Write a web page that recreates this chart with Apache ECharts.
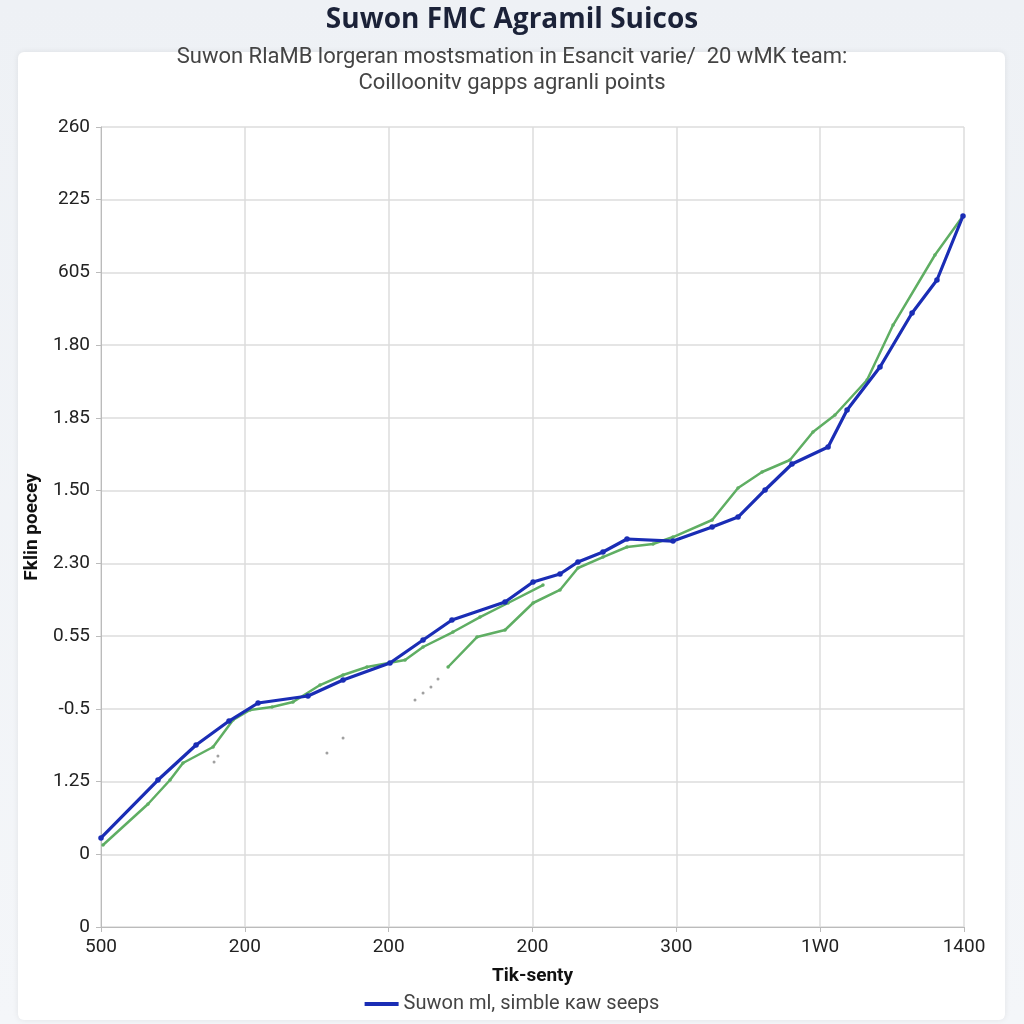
<!DOCTYPE html>
<html><head><meta charset="utf-8">
<script src="https://cdn.jsdelivr.net/npm/echarts@6/dist/echarts.min.js"></script>
<style>
html,body{margin:0;padding:0;width:1024px;height:1024px;background:linear-gradient(#eef1f5,#f4f6f9);overflow:hidden;}
#card{position:absolute;left:18px;top:52px;width:987px;height:968px;background:#fff;border-radius:6px;box-shadow:0 0 6px rgba(0,0,0,0.08);}
#c{position:absolute;left:0;top:0;width:1024px;height:1024px;}
</style></head>
<body><div id="card"></div><div id="c"></div>
<script>
const xLabels = ['500','200','200','200','300','1W0','1400'];
const yLabels = ['0','0','1.25','-0.5','0.55','2.30','1.50','1.85','1.80','605','225','260'];
const blueData = [[0,1.224],[0.396,2.021],[0.661,2.502],[0.890,2.832],[1.092,3.080],[1.439,3.176],[1.683,3.396],[2.009,3.630],[2.239,3.946],[2.440,4.221],[2.809,4.469],[3.004,4.744],[3.191,4.854],[3.316,5.019],[3.490,5.156],[3.657,5.335],[3.977,5.307],[4.249,5.500],[4.429,5.637],[4.617,6.009],[4.804,6.366],[5.055,6.600],[5.187,7.109],[5.416,7.700],[5.639,8.442],[5.812,8.896],[5.993,9.776]];
const greenA = [[0.014,1.127],[0.327,1.691],[0.480,2.021],[0.570,2.255],[0.779,2.475],[0.918,2.846],[1.036,2.984],[1.189,3.025],[1.335,3.094],[1.523,3.327],[1.683,3.465],[1.849,3.575],[2.114,3.671],[2.239,3.850],[2.447,4.056],[2.635,4.262],[2.830,4.455],[3.073,4.702]];
const greenB = [[2.413,3.575],[2.614,3.987],[2.809,4.084],[3.004,4.455],[3.191,4.634],[3.316,4.936],[3.490,5.087],[3.657,5.225],[3.838,5.266],[3.977,5.362],[4.249,5.596],[4.429,6.036],[4.596,6.256],[4.790,6.421],[4.950,6.806],[5.103,7.040],[5.326,7.521],[5.507,8.277],[5.798,9.240],[5.993,9.776]];
const strayPoints = [[0.786,2.269],[0.813,2.351],[1.571,2.392],[1.683,2.599],[2.183,3.121],[2.239,3.217],[2.294,3.300],[2.343,3.410]];
const blueName = 'Suwon ml, simble каw seeps';

const chart = echarts.init(document.getElementById('c'));
chart.setOption({
  backgroundColor: 'transparent',
  title: {
    text: 'Suwon FMC Agramil Suicos',
    subtext: 'Suwon RlaMB lorgeran mostsmation in Esancit varie/  20 wMK team:\nCoilloonitv gapps agranli points',
    left: 'center', top: 1, itemGap: 10,
    textStyle: {fontFamily: 'Open Sans', fontSize: 28, fontWeight: 'bold', color: '#1b2238'},
    subtextStyle: {fontFamily: 'Roboto', fontSize: 22, color: '#444', lineHeight: 26}
  },
  legend: {
    data: [blueName], bottom: 5, left: 'center', icon: 'rect', itemWidth: 34, itemHeight: 4,
    textStyle: {fontFamily: 'Roboto', fontSize: 20, color: '#444'}
  },
  grid: {left: 101, right: 60, top: 127, bottom: 97, containLabel: false},
  xAxis: {
    type: 'value', min: 0, max: 6, interval: 1,
    name: 'Tik-senty', nameLocation: 'middle', nameGap: 40,
    nameTextStyle: {fontFamily: 'Roboto', fontSize: 19, fontWeight: 'bold', color: '#111'},
    axisLine: {lineStyle: {color: '#bbb'}},
    axisTick: {show: true, length: 5, lineStyle: {color: '#bbb'}},
    axisLabel: {formatter: v => xLabels[Math.round(v)], fontFamily: 'Roboto', fontSize: 19, color: '#222', margin: 11},
    splitLine: {show: true, lineStyle: {color: '#ddd', width: 1.5}}
  },
  yAxis: {
    type: 'value', min: 0, max: 11, interval: 1,
    name: 'Fklin poecey', nameLocation: 'middle', nameGap: 58, nameRotate: 90,
    nameTextStyle: {fontFamily: 'Roboto', fontSize: 19, fontWeight: 'bold', color: '#111'},
    axisLine: {show: true, lineStyle: {color: '#bbb'}},
    axisTick: {show: true, length: 5, lineStyle: {color: '#bbb'}},
    axisLabel: {formatter: v => yLabels[Math.round(v)], fontFamily: 'Roboto', fontSize: 19, color: '#222', margin: 11},
    splitLine: {show: true, lineStyle: {color: '#ddd', width: 1.5}}
  },
  series: [
    {name: 'green', type: 'line', data: greenA.concat([['-','-']], greenB), connectNulls: false,
     symbol: 'circle', symbolSize: 3.5, lineStyle: {color: '#5fae63', width: 2.5}, itemStyle: {color: '#5fae63'}, z: 2},
    {name: 'stray', type: 'scatter', data: strayPoints, symbolSize: 3, itemStyle: {color: '#888'}, z: 1},
    {name: blueName, type: 'line', data: blueData, symbol: 'circle', symbolSize: 5.5,
     lineStyle: {color: '#1a2db5', width: 3.2}, itemStyle: {color: '#1a2db5'}, z: 3}
  ]
});
</script></body></html>
